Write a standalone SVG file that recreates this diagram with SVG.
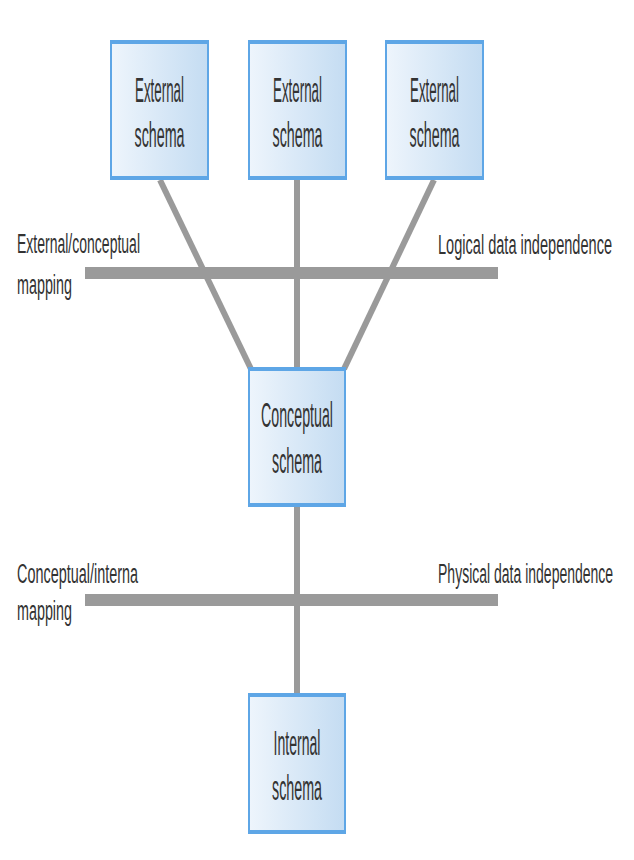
<svg xmlns="http://www.w3.org/2000/svg" width="634" height="860" viewBox="0 0 634 860">
<defs>
<linearGradient id="boxg" x1="0" y1="0" x2="1" y2="0">
<stop offset="0" stop-color="#eef5fc"/>
<stop offset="1" stop-color="#c4dcf2"/>
</linearGradient>
<style>
.box{fill:url(#boxg);stroke:#5ea6e6;stroke-width:2}
.edge{stroke:#5ea6e6;stroke-width:4}
.bt{font-family:"Liberation Sans",Arial,sans-serif;font-size:35px;fill:#333;text-anchor:middle}
.lbl{font-family:"Liberation Sans",Arial,sans-serif;font-size:27px;fill:#333}
.conn{stroke:#9a9a9a;stroke-width:6;fill:none}
.bar{stroke:#9a9a9a;stroke-width:12;fill:none}
</style>
</defs>
<rect width="634" height="860" fill="#fff"/>
<g id="connectors">
<line class="conn" x1="160" y1="180" x2="251" y2="369"/>
<line class="conn" x1="297" y1="180" x2="297" y2="369"/>
<line class="conn" x1="434" y1="180" x2="344" y2="369"/>
<line class="conn" x1="297" y1="507" x2="297" y2="694"/>
<line class="bar" x1="85" y1="273" x2="498" y2="273"/>
<line class="bar" x1="85" y1="600" x2="498" y2="600"/>
</g>
<g id="ext1">
<rect class="box" x="111" y="41" width="97" height="138"/>
<line class="edge" x1="111" y1="42" x2="208" y2="42"/><line class="edge" x1="111" y1="178" x2="208" y2="178"/>
<text class="bt" x="159.5" y="102" textLength="49" lengthAdjust="spacingAndGlyphs">External</text>
<text class="bt" x="159.5" y="147" textLength="50" lengthAdjust="spacingAndGlyphs">schema</text>
</g>
<g id="ext2">
<rect class="box" x="249" y="41" width="97" height="138"/>
<line class="edge" x1="249" y1="42" x2="346" y2="42"/><line class="edge" x1="249" y1="178" x2="346" y2="178"/>
<text class="bt" x="297.5" y="102" textLength="49" lengthAdjust="spacingAndGlyphs">External</text>
<text class="bt" x="297.5" y="147" textLength="50" lengthAdjust="spacingAndGlyphs">schema</text>
</g>
<g id="ext3">
<rect class="box" x="386" y="41" width="97" height="138"/>
<line class="edge" x1="386" y1="42" x2="483" y2="42"/><line class="edge" x1="386" y1="178" x2="483" y2="178"/>
<text class="bt" x="434.5" y="102" textLength="49" lengthAdjust="spacingAndGlyphs">External</text>
<text class="bt" x="434.5" y="147" textLength="50" lengthAdjust="spacingAndGlyphs">schema</text>
</g>
<g id="conceptual">
<rect class="box" x="249" y="368" width="96" height="138"/>
<line class="edge" x1="249" y1="369" x2="345" y2="369"/><line class="edge" x1="249" y1="505" x2="345" y2="505"/>
<text class="bt" x="297" y="427" textLength="72" lengthAdjust="spacingAndGlyphs">Conceptual</text>
<text class="bt" x="297" y="473" textLength="50" lengthAdjust="spacingAndGlyphs">schema</text>
</g>
<g id="internal">
<rect class="box" x="249" y="694" width="96" height="139"/>
<line class="edge" x1="249" y1="695" x2="345" y2="695"/><line class="edge" x1="249" y1="832" x2="345" y2="832"/>
<text class="bt" x="297" y="755" textLength="47" lengthAdjust="spacingAndGlyphs">Internal</text>
<text class="bt" x="297" y="800" textLength="50" lengthAdjust="spacingAndGlyphs">schema</text>
</g>
<g id="labels">
<text class="lbl" x="17" y="253" textLength="123" lengthAdjust="spacingAndGlyphs">External/conceptual</text>
<text class="lbl" x="17" y="294" textLength="55" lengthAdjust="spacingAndGlyphs">mapping</text>
<text class="lbl" transform="translate(438 254) scale(0.58 1)" x="0" y="0" textLength="300" lengthAdjust="spacingAndGlyphs">Logical data independence</text>
<text class="lbl" x="17" y="583" textLength="121" lengthAdjust="spacingAndGlyphs">Conceptual/interna</text>
<text class="lbl" x="17" y="620" textLength="55" lengthAdjust="spacingAndGlyphs">mapping</text>
<text class="lbl" transform="translate(438 583) scale(0.58 1)" x="0" y="0" textLength="302" lengthAdjust="spacingAndGlyphs">Physical data independence</text>
</g>
</svg>
